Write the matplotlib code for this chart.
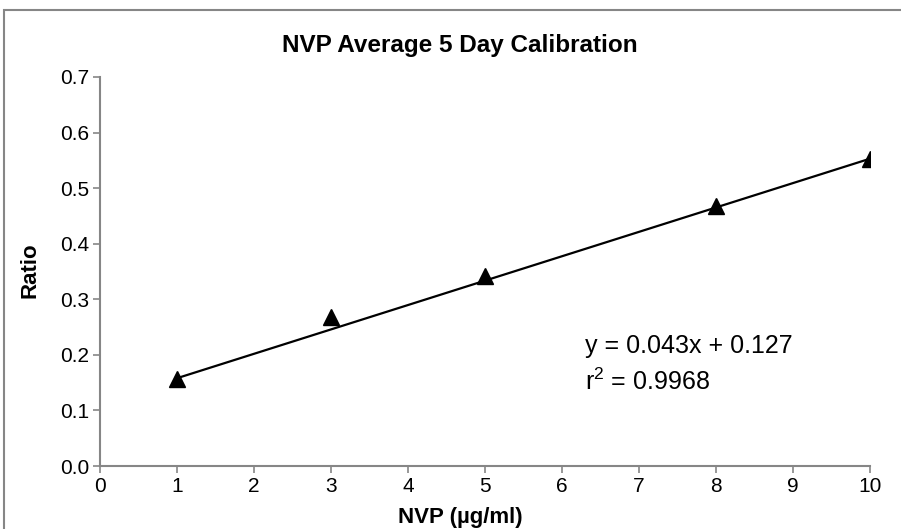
import matplotlib.pyplot as plt
from matplotlib.patches import Rectangle

# calibration points
conc = [1, 3, 5, 8, 10]
ratio = [0.157, 0.268, 0.342, 0.467, 0.553]

# trendline end points as drawn
trend_x = [1, 10]
trend_y = [0.158, 0.553]

x_ticks = list(range(0, 11))
y_ticks = [0.0, 0.1, 0.2, 0.3, 0.4, 0.5, 0.6, 0.7]

plt.rcParams['font.family'] = ['Liberation Sans', 'DejaVu Sans']
plt.rcParams['mathtext.fontset'] = 'custom'
plt.rcParams['mathtext.rm'] = 'Liberation Sans'
grey = '#868686'
W, H = 901, 529

fig = plt.figure(figsize=(W / 100, H / 100), dpi=100)
ax = fig.add_axes([100 / W, 1 - 466 / H, 770 / W, 389 / H])

ax.plot(trend_x, trend_y, color='black', lw=1.6, zorder=2)
ax.plot(conc, ratio, linestyle='none', marker='^', markersize=11,
        color='black', zorder=3)

ax.set_xlim(0, 10)
ax.set_ylim(0, 0.7)
ax.set_xticks(x_ticks)
ax.set_yticks(y_ticks)
ax.set_yticklabels(['{:.1f}'.format(v) for v in y_ticks])
ax.tick_params(direction='out', length=5, width=1.2, color=grey,
               labelsize=15, pad=3)
for side in ['top', 'right']:
    ax.spines[side].set_visible(False)
for side in ['left', 'bottom']:
    ax.spines[side].set_color(grey)
    ax.spines[side].set_linewidth(1.5)

# title and axis titles placed in pixel positions of the original
fig.text(460 / W, 1 - 46 / H, 'NVP Average 5 Day Calibration', fontsize=17.5,
         fontweight='bold', ha='center', va='center')
fig.text(460 / W, 1 - 518 / H, 'NVP (µg/ml)', fontsize=16,
         fontweight='bold', ha='center', va='center')
fig.text(30 / W, 1 - 270 / H, 'Ratio', fontsize=16, fontweight='bold',
         ha='center', va='center', rotation=90)

ax.text(6.3, 0.216, 'y = 0.043x + 0.127', fontsize=18, va='center')
ax.text(6.3, 0.151, r'r$\mathregular{^2}$ = 0.9968', fontsize=18, va='center')

# outer chart border
fig.patches.append(Rectangle((4 / W, -0.1), 1.2, 1 - 10 / H + 0.1,
                             transform=fig.transFigure, fill=False,
                             edgecolor=grey, lw=1.5))

fig.savefig('out.png', dpi=100)
